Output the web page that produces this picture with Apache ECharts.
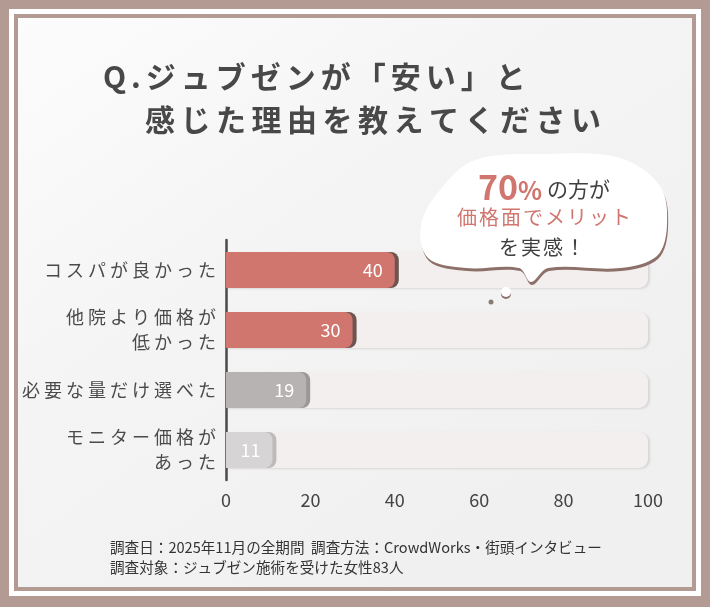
<!DOCTYPE html>
<html><head><meta charset="utf-8">
<script src="https://cdn.jsdelivr.net/npm/echarts@6/dist/echarts.min.js"></script>
<style>html,body{margin:0;padding:0;background:#b39b93;}#c{width:710px;height:607px;}</style>
</head><body><div id="c"></div>
<script>
var categories = ['コスパが良かった', '他院より価格が\n低かった', '必要な量だけ選べた', 'モニター価格が\nあった'];
var values = [40, 30, 19, 11];
var xTicks = { min: 0, max: 100, step: 20 };
var titleLines = ['Q.ジュブゼンが「安い」と', '感じた理由を教えてください'];
var noteLines = ['調査日：2025年11月の全期間  調査方法：CrowdWorks・街頭インタビュー', '調査対象：ジュブゼン施術を受けた女性83人'];

var palette = ['#d0766f', '#d0766f', '#b7b3b3', '#d6d4d4'];
var shadowPalette = ['#6e5450', '#6e5450', '#9c9898', '#bdbaba'];
var FONT = '"Noto Sans CJK JP", "Noto Sans", sans-serif';

// letter-spaced rich text: first char of each line uses style f, others style s (left padding)
function spaced(str) {
  return str.split('\n').map(function (line) {
    return Array.from(line).map(function (ch, i) {
      return '{' + (i === 0 ? 'f' : 's') + '|' + ch + '}';
    }).join('');
  }).join('\n');
}
function spacedRich(size, color, weight, gap) {
  return {
    f: { fontSize: size, color: color, fontWeight: weight, fontFamily: FONT },
    s: { fontSize: size, color: color, fontWeight: weight, fontFamily: FONT, padding: [0, 0, 0, gap] }
  };
}

var chart = echarts.init(document.getElementById('c'));
chart.setOption({
  backgroundColor: '#b39b93',
  textStyle: { fontFamily: FONT },
  graphic: [
    { type: 'rect', z: -10, shape: { x: 9, y: 9, width: 692, height: 587 }, style: { fill: '#ffffff' } },
    { type: 'rect', z: -9, shape: { x: 14, y: 14, width: 682, height: 577 }, style: { fill: '#b39b93' } },
    { type: 'rect', z: -8, shape: { x: 18, y: 18, width: 674, height: 569 },
      style: { fill: { type: 'linear', x: 0, y: 0, x2: 0.6, y2: 1, colorStops: [
        { offset: 0, color: '#fcfcfc' }, { offset: 0.5, color: '#f5f4f4' }, { offset: 1, color: '#f1f0f0' }] } } },
    { type: 'polygon', z: 50,
      shape: { smooth: 0.35, points: [[440,190],[475,160],[545,154],[620,158],[660,186],[667,225],[657,256],[620,268],[548,268],[531,282],[519,268],[466,268],[428,258],[421,225]] },
      style: { fill: '#ffffff', shadowColor: '#8c7069', shadowOffsetY: 3, shadowOffsetX: 1, shadowBlur: 0 } },
    { type: 'circle', z: 50, shape: { cx: 506, cy: 292, r: 5 }, style: { fill: '#ffffff', shadowColor: '#8c7069', shadowOffsetY: 2, shadowBlur: 0 } },
    { type: 'circle', z: 50, shape: { cx: 491, cy: 302, r: 2.5 }, style: { fill: '#8a7a76' } },
    { type: 'text', z: 51, style: {
        text: '{a|70}{b|%}{c|の方が}', x: 544, y: 187, align: 'center', verticalAlign: 'middle',
        rich: {
          a: { fontSize: 34, fontWeight: 'bold', fill: '#d0766f', fontFamily: FONT },
          b: { fontSize: 25, fontWeight: 'bold', fill: '#d0766f', fontFamily: FONT, padding: [7, 5, 0, 0] },
          c: { fontSize: 21, fill: '#3f3f3f', fontFamily: FONT, padding: [5, 0, 0, 0] }
        } } },
    { type: 'text', z: 51, style: { text: spaced('価格面でメリット'), x: 544, y: 217, align: 'center', verticalAlign: 'middle',
        rich: { f: { fontSize: 20, fill: '#d0766f', fontFamily: FONT }, s: { fontSize: 20, fill: '#d0766f', fontFamily: FONT, padding: [0, 0, 0, 2] } } } },
    { type: 'text', z: 51, style: { text: spaced('を実感！'), x: 542, y: 247, align: 'center', verticalAlign: 'middle',
        rich: { f: { fontSize: 20, fill: '#3f3f3f', fontFamily: FONT }, s: { fontSize: 20, fill: '#3f3f3f', fontFamily: FONT, padding: [0, 0, 0, 2] } } } },
    { type: 'text', z: 51, style: { text: noteLines.join('\n'), x: 110, y: 537, fontSize: 14.6, lineHeight: 20, fill: '#333333', fontFamily: FONT } }
  ],
  title: [
    { text: spaced(titleLines[0]), left: 98, top: 57, textStyle: { rich: spacedRich(30, '#484848', 'bold', 5) } },
    { text: spaced(titleLines[1]), left: 140, top: 100, textStyle: { rich: spacedRich(30, '#484848', 'bold', 5.5) } }
  ],
  grid: { left: 226, right: 62, top: 240, bottom: 127 },
  xAxis: {
    type: 'value', min: xTicks.min, max: xTicks.max, interval: xTicks.step,
    axisLine: { show: false }, axisTick: { show: false }, splitLine: { show: false },
    axisLabel: { fontSize: 18, color: '#444444', margin: 11, fontFamily: FONT }
  },
  yAxis: {
    type: 'category', data: categories, inverse: true,
    axisLine: { show: true, lineStyle: { color: '#4a4a4a', width: 2.5 } },
    axisTick: { show: false },
    axisLabel: { margin: 10, align: 'right', lineHeight: 25,
      formatter: function (v) { return spaced(v); },
      rich: {
        f: { fontSize: 18, color: '#4a4a4a', fontFamily: FONT, lineHeight: 25 },
        s: { fontSize: 18, color: '#4a4a4a', fontFamily: FONT, lineHeight: 25, padding: [0, 0, 0, 4] }
      } }
  },
  series: [{
    type: 'bar', data: values.map(function (v, i) {
      return { value: v, itemStyle: { color: palette[i], shadowColor: shadowPalette[i] } };
    }),
    barWidth: 36,
    itemStyle: { borderRadius: [0, 8, 8, 0], shadowOffsetX: 4, shadowOffsetY: 0, shadowBlur: 0 },
    showBackground: true,
    backgroundStyle: { color: '#f2efee', borderRadius: [0, 9, 9, 0], shadowColor: 'rgba(0,0,0,0.10)', shadowOffsetX: 2, shadowOffsetY: 1, shadowBlur: 2 },
    label: { show: true, position: 'insideRight', distance: 12, color: '#ffffff', fontSize: 18, fontFamily: FONT },
    z: 2
  }]
});
</script></body></html>
